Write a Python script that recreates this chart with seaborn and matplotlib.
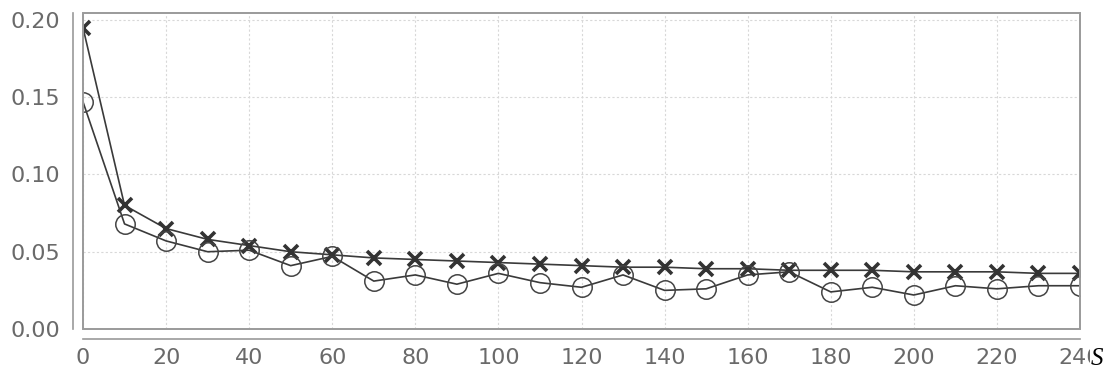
import numpy as np
import pandas as pd
import seaborn as sns
import matplotlib.pyplot as plt
from matplotlib.patches import Rectangle

# values
s_values = list(range(0, 250, 10))
cross_values = [0.195, 0.080, 0.065, 0.058, 0.054, 0.050, 0.048, 0.046, 0.045, 0.044,
                0.043, 0.042, 0.041, 0.040, 0.040, 0.039, 0.039, 0.038, 0.038, 0.038,
                0.037, 0.037, 0.037, 0.036, 0.036]
circle_values = [0.147, 0.068, 0.057, 0.050, 0.051, 0.041, 0.047, 0.031, 0.035, 0.029,
                 0.036, 0.030, 0.027, 0.035, 0.025, 0.026, 0.035, 0.037, 0.024, 0.027,
                 0.022, 0.028, 0.026, 0.028, 0.028]
x_ticks = list(range(0, 250, 20))
y_ticks = [0.00, 0.05, 0.10, 0.15, 0.20]

df = pd.DataFrame({"S": s_values + s_values,
                   "value": cross_values + circle_values,
                   "series": ["cross"] * len(s_values) + ["circle"] * len(s_values)})

sns.set_style("white")
plt.rcParams['font.family'] = ['DejaVu Sans']

fig = plt.figure(figsize=(11.19, 3.74), dpi=100)
ax = fig.add_axes([83 / 1119, 1 - 329 / 374, (1080 - 83) / 1119, (329 - 13) / 374])

sns.lineplot(data=df[df.series == "cross"], x="S", y="value", ax=ax, color="#3a3a3a",
             lw=1.2, marker="x", markersize=10, markeredgewidth=2.6,
             markeredgecolor="#333333", legend=False)
sns.lineplot(data=df[df.series == "circle"], x="S", y="value", ax=ax, color="#3a3a3a",
             lw=1.2, marker="o", markersize=14, markerfacecolor="none",
             markeredgewidth=1.1, markeredgecolor="#444444", legend=False)

ax.set_xlim(0, 240)
ax.set_ylim(0, 0.2045)
ax.set_xticks(x_ticks)
ax.set_yticks(y_ticks)
ax.set_yticklabels([f"{v:.2f}" for v in y_ticks])
ax.set_xlabel("")
ax.set_ylabel("")

ax.grid(True, color="#d8d8d8", linestyle=(0, (2, 2)), lw=0.8)
ax.set_axisbelow(True)

for side in ["top", "right"]:
    ax.spines[side].set_visible(False)
for side in ["left", "bottom"]:
    ax.spines[side].set_position(("outward", 7))
    ax.spines[side].set_color("#9a9a9a")
    ax.spines[side].set_linewidth(1.2)

ax.add_patch(Rectangle((0, 0), 1, 1, transform=ax.transAxes, fill=False,
                       edgecolor="#9a9a9a", lw=1.4, clip_on=False, zorder=5))

ax.tick_params(axis="both", which="both", direction="inout", length=5, width=1,
               color="#9a9a9a", labelcolor="#6a6a6a", labelsize=16)
ax.tick_params(axis="x", pad=4)
ax.tick_params(axis="y", pad=7)

fig.text(1091 / 1119, 1 - 359 / 374, "S", fontsize=18, style="italic",
         family=["Liberation Serif", "DejaVu Serif"], color="black",
         ha="left", va="center",
         bbox=dict(facecolor="white", edgecolor="none", pad=0.5))

fig.savefig("out.png", dpi=100)
